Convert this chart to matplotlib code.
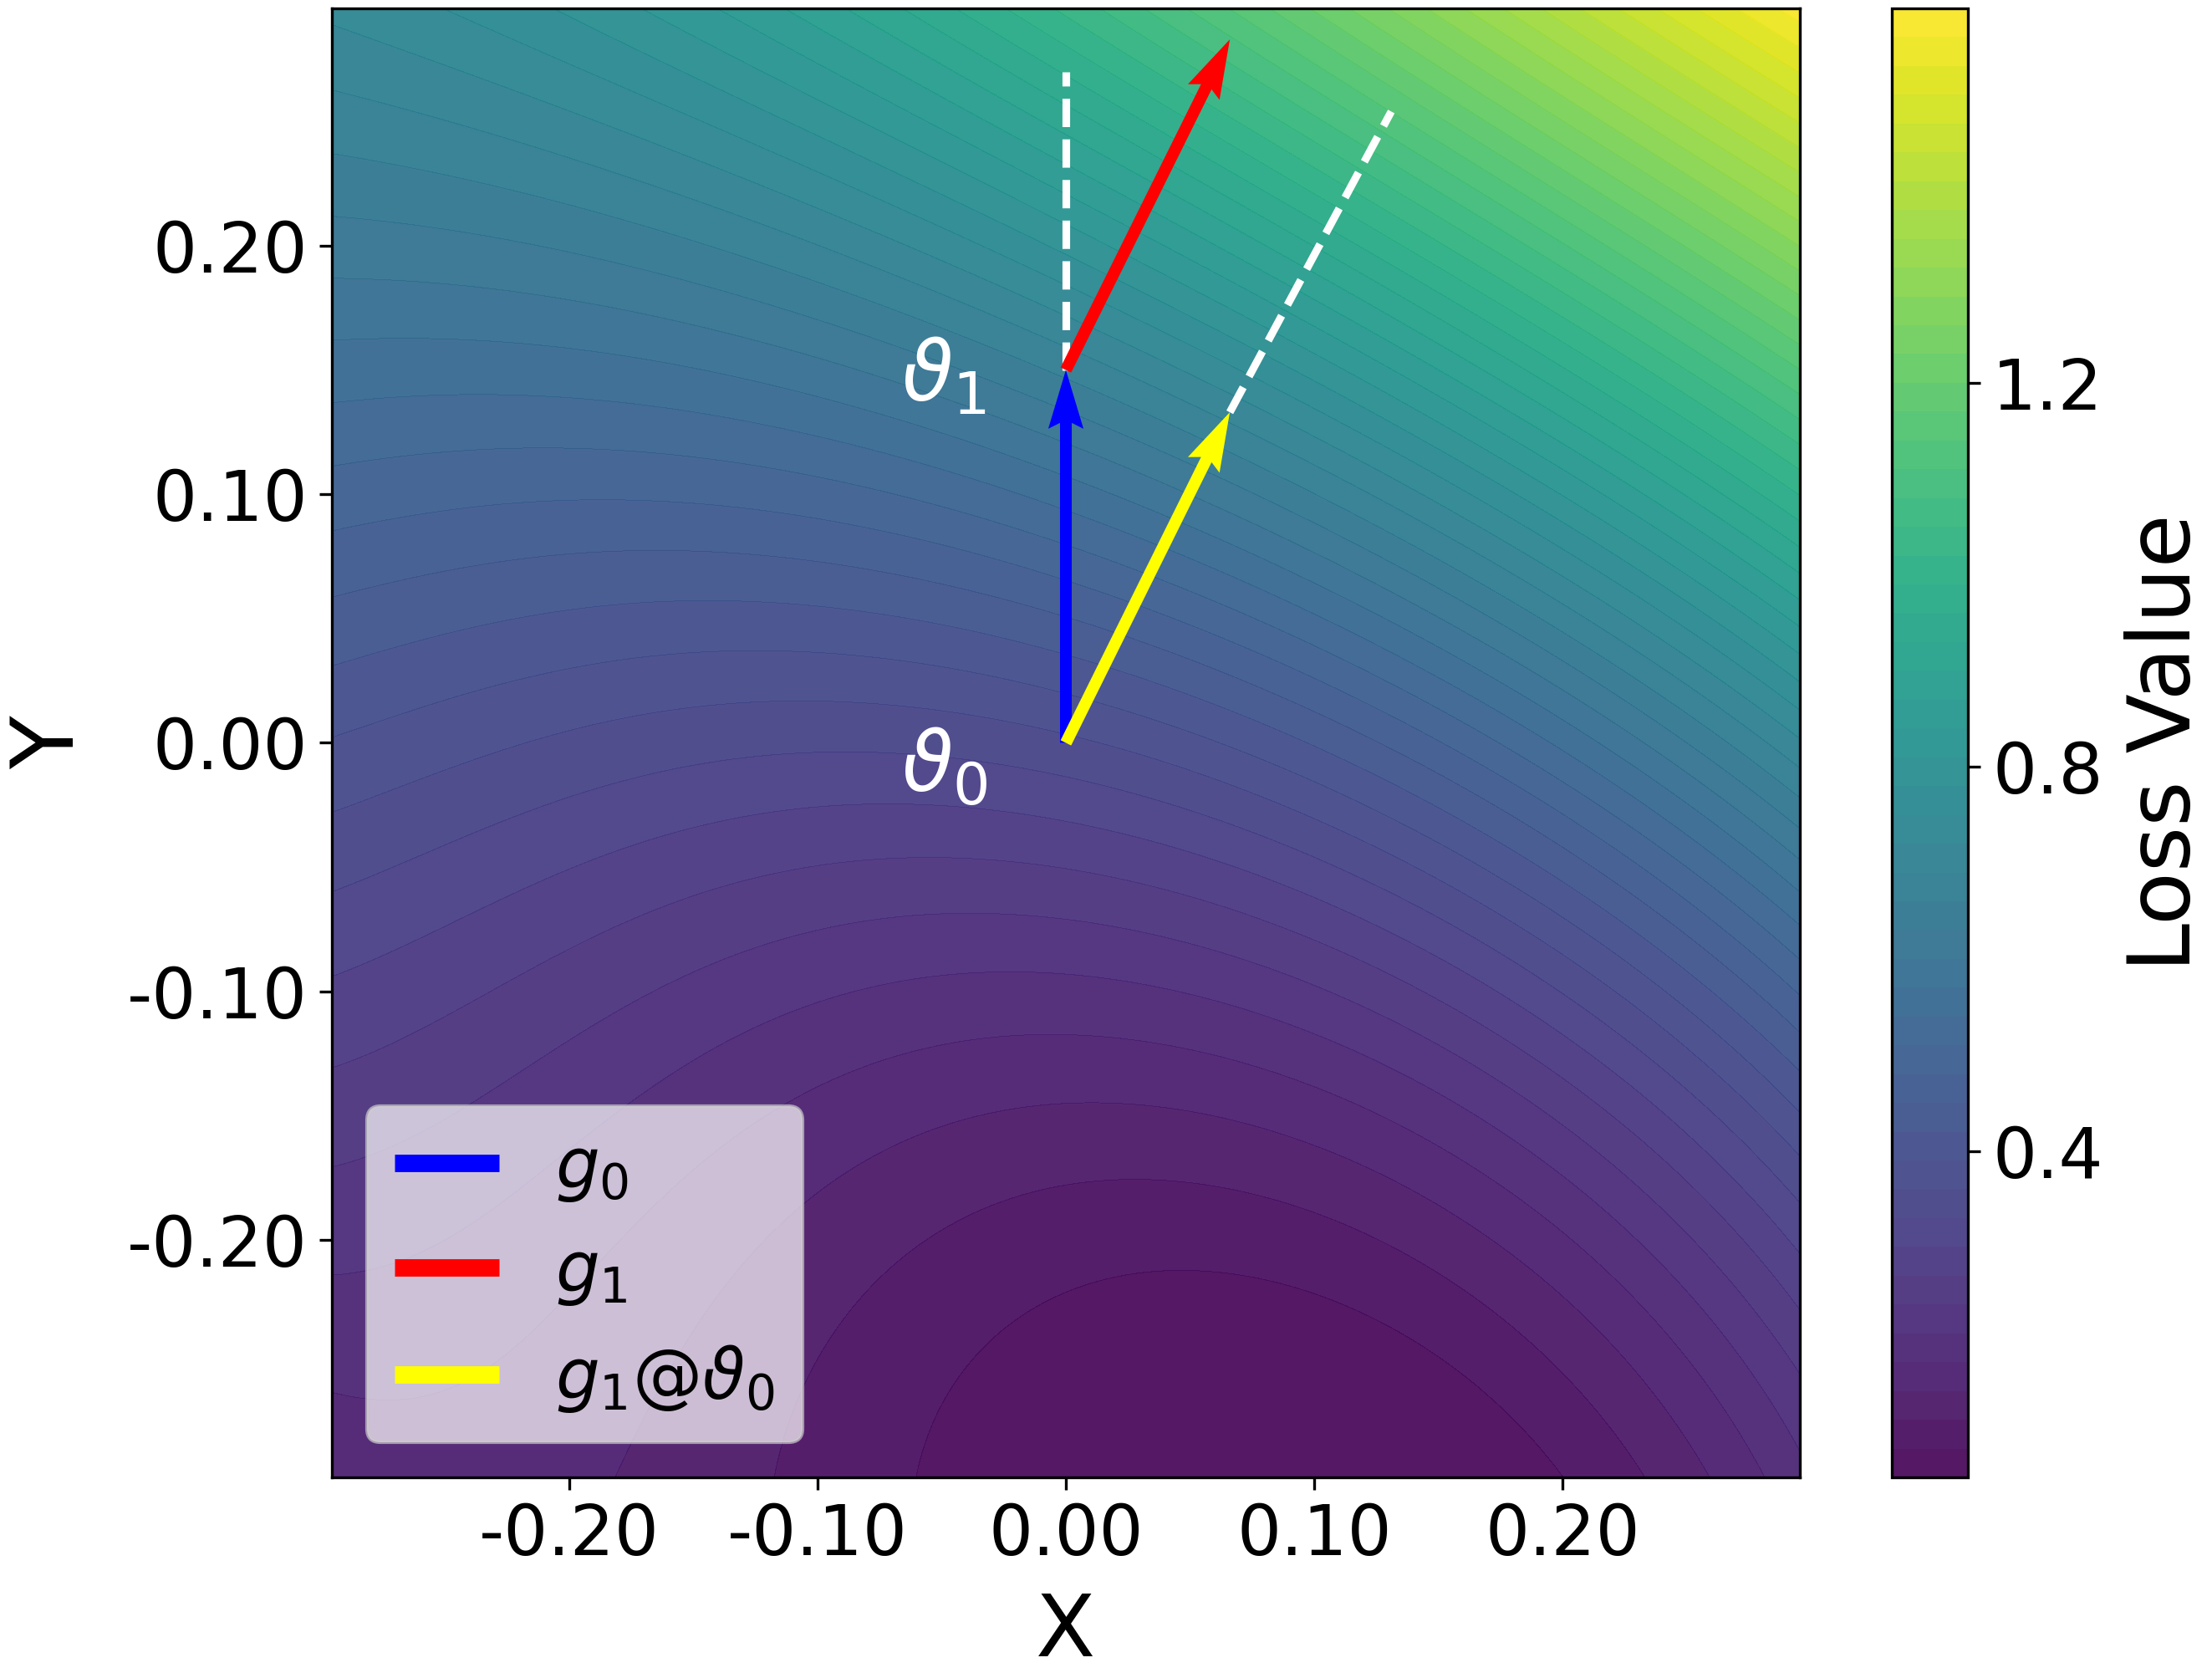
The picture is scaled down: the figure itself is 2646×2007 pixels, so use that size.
import numpy as np
import matplotlib
matplotlib.use("Agg")
import matplotlib.pyplot as plt
from matplotlib.lines import Line2D
from matplotlib.ticker import FormatStrFormatter

# ---------------- data ----------------
LIM = 0.2955                      # half-width of the plotted square
LEVEL_MIN, LEVEL_MAX, LEVEL_STEP = 0.06, 1.59, 0.03

# contour-level crossings read along the edges / interior  (x, y, loss)
left_y = [-0.2955, -0.275, -0.222, -0.175, -0.134, -0.095, -0.060, -0.026, 0.005, 0.034,
          0.063, 0.090, 0.116, 0.141, 0.166, 0.191, 0.214, 0.237, 0.260, 0.281]
left_z = [0.165, 0.18, 0.21, 0.24, 0.27, 0.30, 0.33, 0.36, 0.39, 0.42,
          0.45, 0.48, 0.51, 0.54, 0.57, 0.60, 0.63, 0.66, 0.69, 0.72]

top_x = [-0.2955, -0.265, -0.209, -0.165, -0.131, -0.103, -0.078, -0.060, 0.0, 0.1, 0.2, 0.2955]
top_z = [0.735, 0.75, 0.78, 0.81, 0.84, 0.87, 0.90, 0.93, 1.04, 1.22, 1.40, 1.575]

right_y = [-0.2955, -0.284, -0.256, -0.229, -0.207, -0.187, -0.168, -0.151, -0.134, -0.118,
           -0.103, -0.088, -0.074, -0.060, -0.047, -0.035, -0.022, -0.011, 0.1, 0.2]
right_z = [0.19, 0.21, 0.24, 0.27, 0.30, 0.33, 0.36, 0.39, 0.42, 0.45,
           0.48, 0.51, 0.54, 0.57, 0.60, 0.63, 0.66, 0.69, 0.99, 1.28]

bottom_x = [-0.242, -0.159, -0.048, 0.07, 0.192, 0.235, 0.269]
bottom_z = [0.15, 0.12, 0.09, 0.07, 0.09, 0.12, 0.15]

apex_x = [0.100, 0.075, 0.065, 0.054, 0.042, 0.032, 0.023]
apex_y = [-0.244, -0.184, -0.141, -0.109, -0.084, -0.061, -0.041]
apex_z = [0.09, 0.12, 0.15, 0.18, 0.21, 0.24, 0.27]

col_x = -0.092
col_y = [-0.032, -0.013, 0.007, 0.027, 0.046, 0.065, 0.083, 0.101, 0.118, 0.135, 0.153, 0.169, 0.186]
col_z = [0.30, 0.33, 0.36, 0.39, 0.42, 0.45, 0.48, 0.51, 0.54, 0.57, 0.60, 0.63, 0.66]

# vectors (start x, start y, dx, dy)
theta0 = (0.0, 0.0)
theta1 = (0.0, 0.150)
g0 = (0.0, 0.150)
g1 = (0.066, 0.133)
dash_a = [(0.0, 0.150), (0.0, 0.270)]
dash_b = [(0.066, 0.133), (0.131, 0.254)]

legend_labels = [r"$g_0$", r"$g_1$", r"$g_1@\vartheta_0$"]
legend_colors = ["blue", "red", "yellow"]

# ---------------- smooth loss surface through the readings ----------------
px = np.concatenate([np.full(len(left_y), -LIM), top_x, np.full(len(right_y), LIM),
                     bottom_x, apex_x, np.full(len(col_y), col_x)])
py = np.concatenate([left_y, np.full(len(top_x), LIM), right_y,
                     np.full(len(bottom_x), -LIM), apex_y, col_y])
pz = np.concatenate([left_z, top_z, right_z, bottom_z, apex_z, col_z])

DEG = 4
def design(x, y):
    u = np.asarray(x) / 0.3
    v = np.asarray(y) / 0.3
    return np.stack([u**i * v**j for i in range(DEG + 1) for j in range(DEG + 1 - i)], axis=-1)

coef, *_ = np.linalg.lstsq(design(px, py), pz, rcond=None)

g = np.linspace(-LIM, LIM, 400)
GX, GY = np.meshgrid(g, g)
Z = design(GX, GY) @ coef
Z = np.clip(Z, LEVEL_MIN + 1e-4, LEVEL_MAX - 1e-4)
levels = np.round(np.arange(LEVEL_MIN, LEVEL_MAX + 1e-6, LEVEL_STEP), 2)

# ---------------- figure ----------------
W, H = 2646, 2007
fig = plt.figure(figsize=(W / 300, H / 300), dpi=300)
ax = fig.add_axes([397 / W, 1 - 1767 / H, (2153 - 397) / W, (1767 - 10) / H])
cax = fig.add_axes([2263 / W, 1 - 1767 / H, (2354 - 2263) / W, (1767 - 10) / H])

cf = ax.contourf(GX, GY, Z, levels=levels, cmap="viridis", alpha=0.92)

ax.plot([p[0] for p in dash_a], [p[1] for p in dash_a], "--", color="white", lw=2.2, zorder=3)
ax.plot([p[0] for p in dash_b], [p[1] for p in dash_b], "--", color="white", lw=2.2, zorder=3)

qkw = dict(angles="xy", scale_units="xy", scale=1, width=0.008, zorder=4)
ax.quiver(theta0[0], theta0[1], g0[0], g0[1], color="blue", **qkw)
ax.quiver(theta1[0], theta1[1], g1[0], g1[1], color="red", **qkw)
ax.quiver(theta0[0], theta0[1], g1[0], g1[1], color="yellow", **qkw)

ax.text(-0.049, 0.147, r"$\vartheta_1$", color="white", fontsize=24, ha="center", va="center")
ax.text(-0.049, -0.010, r"$\vartheta_0$", color="white", fontsize=24, ha="center", va="center")

ax.set_xlim(-LIM, LIM)
ax.set_ylim(-LIM, LIM)
ticks = [-0.2, -0.1, 0.0, 0.1, 0.2]
ax.set_xticks(ticks)
ax.set_yticks(ticks)
ax.xaxis.set_major_formatter(FormatStrFormatter("%.2f"))
ax.yaxis.set_major_formatter(FormatStrFormatter("%.2f"))
ax.tick_params(labelsize=20)
ax.set_xlabel("X", fontsize=25, labelpad=6)
ax.set_ylabel("Y", fontsize=25, labelpad=10)

handles = [Line2D([0], [0], color=c, lw=5, solid_capstyle="butt") for c in legend_colors]
ax.legend(handles, legend_labels, loc="lower left", fontsize=20, handlelength=1.5,
          framealpha=0.7)

cb = fig.colorbar(cf, cax=cax, ticks=[0.4, 0.8, 1.2])
cb.ax.tick_params(labelsize=20)
cb.set_label("Loss Value", fontsize=25, labelpad=6)

fig.savefig("out.png", dpi=300)
